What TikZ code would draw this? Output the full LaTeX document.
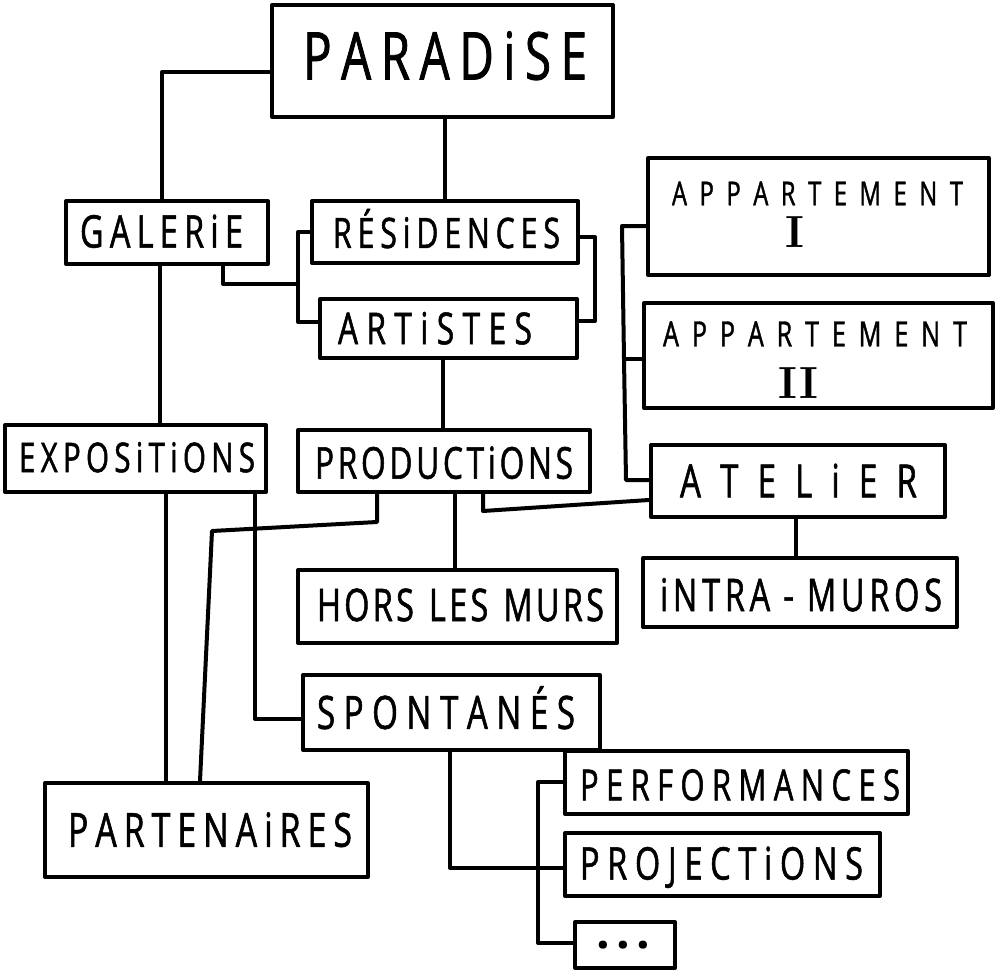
\documentclass[tikz,border=0pt]{standalone}
\usepackage{fontspec}
\usetikzlibrary{calc}
\newfontfamily\hand[FakeStretch=0.72,FakeBold=1.2]{Open Sans}
\newfontfamily\handdot{Open Sans}
\newcommand\g{\hfil}
\newcommand\fs[1]{\fontsize{#1}{#1}\selectfont}
% #1 font, #2 raise (px, up), #3 x offset, #4 text width, #5 text
\newcommand\TL[5]{{#1\raisebox{\dimexpr#2pt-0.357em\relax}[0pt][0pt]{\hspace*{#3pt}\makebox[0pt]{\makebox[#4pt][s]{#5}}\hspace*{-#3pt}}}}
\tikzset{
  box/.style={draw=black, line width=4pt, rectangle, inner sep=0pt, line join=round},
  link/.style={draw=black, line width=4pt, line cap=round, line join=round},
}
\begin{document}
\begin{tikzpicture}[x=1pt, y=-1pt]
\useasboundingbox[fill=white] (0,0) rectangle (1005,974);

% boxes
\node[box, minimum width=341pt, minimum height=112pt] (paradise) at (442.5,61)
  {\TL{\hand\fs{66}}{5}{2.5}{284}{P\g A\g R\g A\g D\g i\g S\g E}};
\node[box, minimum width=202pt, minimum height=63pt] (galerie) at (167,232.5)
  {\TL{\hand\fs{45}}{1}{-5.5}{163}{G\g A\g L\g E\g R\g i\g E}};
\node[box, minimum width=266pt, minimum height=62pt] (residences) at (445,232)
  {\TL{\hand\fs{42}}{-1}{1.5}{227}{R\g É\g S\g i\g D\g E\g N\g C\g E\g S}};
\node[box, minimum width=257pt, minimum height=59pt] (artistes) at (448.5,328.5)
  {\TL{\hand\fs{44}}{0}{-13.5}{194}{A\g R\g T\g i\g S\g T\g E\g S}};
\node[box, minimum width=341pt, minimum height=117pt] (app1) at (818.5,216.5)
  {\TL{\hand\fs{33}}{23}{-1}{291}{A\g P\g P\g A\g R\g T\g E\g M\g E\g N\g T}\TL{\rmfamily\bfseries\fs{45}}{-14.5}{-23.5}{30}{\hfil I\hfil}};
\node[box, minimum width=349pt, minimum height=105pt] (app2) at (818.5,355.5)
  {\TL{\hand\fs{35}}{21.5}{-3.5}{304}{A\g P\g P\g A\g R\g T\g E\g M\g E\g N\g T}\TL{\rmfamily\bfseries\fs{45}}{-27}{-20}{50}{\hfil II\hfil}};
\node[box, minimum width=261pt, minimum height=67pt] (expositions) at (135.5,458.5)
  {\TL{\hand\fs{41}}{1}{1.5}{236}{E\g X\g P\g O\g S\g i\g T\g i\g O\g N\g S}};
\node[box, minimum width=292pt, minimum height=62pt] (productions) at (444,461)
  {\TL{\hand\fs{44}}{-2}{0}{258}{P\g R\g O\g D\g U\g C\g T\g i\g O\g N\g S}};
\node[box, minimum width=294pt, minimum height=72pt] (atelier) at (798,481)
  {\TL{\hand\fs{46}}{0}{0.5}{237}{A\g T\g E\g L\g i\g E\g R}};
\node[box, minimum width=319pt, minimum height=73pt] (hors) at (457.5,606.5)
  {\TL{\hand\fs{45}}{1.5}{3}{287}{H\g O\g R\g S\g\ \g L\g E\g S\g\ \g M\g U\g R\g S}};
\node[box, minimum width=314pt, minimum height=69pt] (intramuros) at (800,592.5)
  {\TL{\hand\fs{45}}{-2.5}{1}{282}{i\g N\g T\g R\g A\g\ -\ \g M\g U\g R\g O\g S}};
\node[box, minimum width=297pt, minimum height=75pt] (spontanes) at (451.5,712.5)
  {\TL{\hand\fs{46}}{0}{-5.5}{258}{S\g P\g O\g N\g T\g A\g N\g É\g S}};
\node[box, minimum width=343pt, minimum height=63pt] (performances) at (736.5,782.5)
  {\TL{\hand\fs{43}}{-2.5}{3.5}{320}{P\g E\g R\g F\g O\g R\g M\g A\g N\g C\g E\g S}};
\node[box, minimum width=315pt, minimum height=63pt] (projections) at (722.5,864.5)
  {\TL{\hand\fs{45}}{1}{-1}{283}{P\g R\g O\g J\g E\g C\g T\g i\g O\g N\g S}};
\node[box, minimum width=100pt, minimum height=46pt] (dots) at (625,945)
  {\TL{\handdot\bfseries\fs{48}}{14}{-2}{54}{.\g.\g.}};
\node[box, minimum width=323pt, minimum height=94pt] (partenaires) at (206.5,830)
  {\TL{\hand\fs{47}}{0}{3.5}{284}{P\g A\g R\g T\g E\g N\g A\g i\g R\g E\g S}};

% junction points
\coordinate (k1) at (162,72);
\coordinate (k3) at (160,0);
\coordinate (k4) at (223,284);
\coordinate (k5) at (298,284);
\coordinate (k6) at (298,232);
\coordinate (k7) at (298,322);
\coordinate (k8) at (595,237);
\coordinate (k9) at (595,321);
\coordinate (k10) at (443,0);
\coordinate (k11) at (622,226);
\coordinate (k12) at (624,359);
\coordinate (k13) at (626,480);
\coordinate (k14) at (483,511);
\coordinate (k15) at (651,500);
\coordinate (k16) at (455,0);
\coordinate (k17) at (796,0);
\coordinate (k18) at (377,522);
\coordinate (k19) at (212,531);
\coordinate (k20) at (200,0);
\coordinate (k21) at (166,0);
\coordinate (k22) at (255,719);
\coordinate (k23) at (450,868);
\coordinate (k24) at (538,782);
\coordinate (k25) at (538,943);

% connectors
\draw[link] (paradise.west |- k1) -- (k1) -- (k1 |- galerie.north);
\draw[link] (residences.north |- paradise.south) -- (residences.north);
\draw[link] (k3 |- galerie.south) -- (k3 |- expositions.north);
\draw[link] (k4 |- galerie.south) -- (k4) -- (k5);
\draw[link] (residences.west |- k6) -- (k6) -- (k7) -- (artistes.west |- k7);
\draw[link] (residences.east |- k8) -- (k8) -- (k9) -- (artistes.east |- k9);
\draw[link] (k10 |- artistes.south) -- (k10 |- productions.north);
\draw[link] (app1.west |- k11) -- (k11) -- (k12) -- (k13) -- (atelier.west |- k13);
\draw[link] (k12) -- (app2.west |- k12);
\draw[link] (k14 |- productions.south) -- (k14) -- (atelier.west |- k15);
\draw[link] (k16 |- productions.south) -- (k16 |- hors.north);
\draw[link] (k17 |- atelier.south) -- (k17 |- intramuros.north);
\draw[link] (k18 |- productions.south) -- (k18) -- (k19) -- (k20 |- partenaires.north);
\draw[link] (k21 |- expositions.south) -- (k21 |- partenaires.north);
\draw[link] (k22 |- expositions.south) -- (k22) -- (spontanes.west |- k22);
\draw[link] (k23 |- spontanes.south) -- (k23) -- (projections.west |- k23);
\draw[link] (performances.west |- k24) -- (k24) -- (k25) -- (dots.west |- k25);
\end{tikzpicture}
\end{document}
